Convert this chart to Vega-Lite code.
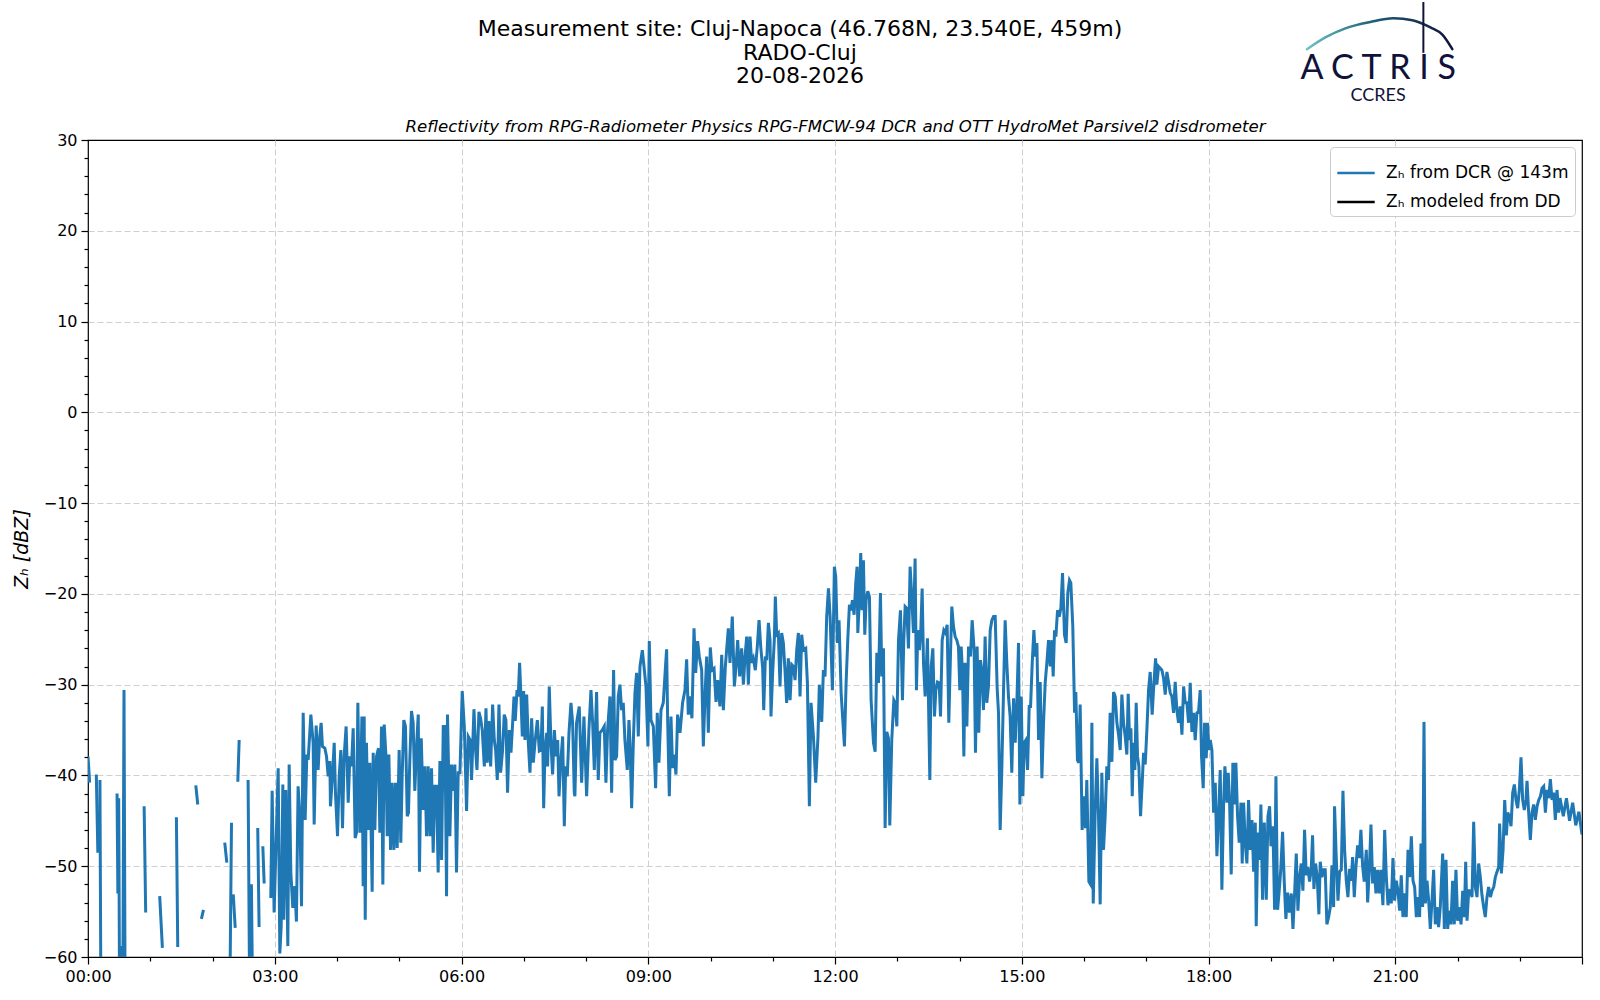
{
  "$schema": "https://vega.github.io/schema/vega-lite/v6.json",
  "width": 1494,
  "height": 817,
  "autosize": "none",
  "padding": {"left": 88, "top": 140, "right": 18, "bottom": 43},
  "background": "white",
  "title": {
    "text": ["Measurement site: Cluj-Napoca (46.768N, 23.540E, 459m)", "RADO-Cluj", "20-08-2026"],
    "font": "DejaVu Sans",
    "fontSize": 22,
    "fontWeight": "normal",
    "color": "black",
    "anchor": "middle",
    "lineHeight": 23.5,
    "dx": -35,
    "offset": -87
  },
  "config": {
    "view": {"stroke": "black", "strokeWidth": 1.2},
    "axis": {"labelFont": "DejaVu Sans", "titleFont": "DejaVu Sans", "labelColor": "black", "titleColor": "black"},
    "legend": {"labelFont": "DejaVu Sans"}
  },
  "resolve": {"axis": {"x": "independent", "y": "independent"}},
  "layer": [
    {
      "data": {"values": [
        {"t":0,"v":-37.9},{"t":1.6,"v":-40.8},{"t":3,"v":null},
        {"t":8,"v":-39.9},{"t":9.5,"v":-48.5},{"t":10.5,"v":null},
        {"t":11.5,"v":-40.5},{"t":12.5,"v":-66},{"t":13.5,"v":null},
        {"t":28,"v":-42},{"t":28.8,"v":-53},{"t":29.6,"v":-42.5},{"t":30.5,"v":-66},{"t":32.5,"v":-58.8},{"t":33.5,"v":-66},{"t":34.7,"v":-30.6},{"t":35.8,"v":-66},{"t":36.8,"v":null},
        {"t":54.1,"v":-43.4},{"t":55.6,"v":-55.1},{"t":56.6,"v":null},
        {"t":69.1,"v":-53.3},{"t":71.7,"v":-59},{"t":72.7,"v":null},
        {"t":85.2,"v":-44.6},{"t":86.5,"v":-58.9},{"t":87.5,"v":null},
        {"t":103.9,"v":-41.1},{"t":105.8,"v":-43.2},{"t":106.8,"v":null},
        {"t":109.3,"v":-55.8},{"t":111.3,"v":-54.8},{"t":112.3,"v":null},
        {"t":131.8,"v":-47.4},{"t":133.8,"v":-49.6},{"t":134.8,"v":null},
        {"t":136.6,"v":-66},{"t":138.3,"v":-45.2},{"t":139.2,"v":null},
        {"t":140,"v":-53.1},{"t":141.9,"v":-56.8},{"t":142.9,"v":null},
        {"t":144.4,"v":-40.7},{"t":145.7,"v":-36.1},{"t":146.7,"v":null},
        {"t":154.3,"v":-40.5},{"t":155.9,"v":-66},{"t":157.5,"v":-52},{"t":158.8,"v":-66},{"t":159.8,"v":null},
        {"t":163.6,"v":-45.8},{"t":164.9,"v":-56.7},{"t":165.9,"v":null},
        {"t":168.5,"v":-47.8},{"t":169.8,"v":-51.9},{"t":170.8,"v":null},
        {"t":176.2,"v":-53.5},{"t":177.5,"v":-41.7},{"t":179.4,"v":-55.1},{"t":183.3,"v":-39.2},{"t":184.9,"v":-59.6},{"t":186.2,"v":-56.6},{"t":187.8,"v":-41},{"t":188.7,"v":-55.9},{"t":190.6,"v":-41.6},{"t":192.6,"v":-58.8},{"t":193.9,"v":-38.8},{"t":195.5,"v":-50.7},{"t":197.4,"v":-54.6},{"t":199.3,"v":-52.2},{"t":200.9,"v":-56.1},{"t":202.5,"v":-41.2},{"t":204.2,"v":-44.5},{"t":205.8,"v":-54.4},{"t":207.4,"v":-33.1},{"t":209.3,"v":-44.9},{"t":210.9,"v":-37.7},{"t":212.2,"v":-38.3},{"t":214.8,"v":-33.3},{"t":217,"v":-36.4},{"t":218,"v":-45.4},{"t":219.9,"v":-34.5},{"t":221.8,"v":-39.4},{"t":223.4,"v":-35.7},{"t":224.7,"v":-34.2},{"t":226,"v":-36.8},{"t":228.3,"v":-37},{"t":229.9,"v":-37.9},{"t":231.5,"v":-40.1},{"t":233.1,"v":-38.4},
        {"t":233.7,"v":-43.4},{"t":235.6,"v":-40.1},{"t":237.3,"v":-36.4},{"t":238.5,"v":-41.9},{"t":240.5,"v":-46.7},{"t":242.1,"v":-40.1},{"t":243.7,"v":-37.2},{"t":245.3,"v":-45.8},{"t":246.9,"v":-37.9},{"t":248.8,"v":-34.6},{"t":250.8,"v":-43},{"t":252.4,"v":-37.9},{"t":254,"v":-39},{"t":255.6,"v":-34.8},{"t":257.5,"v":-46.9},{"t":258.8,"v":-46.3},{"t":260.1,"v":-32},{"t":262,"v":-46.3},{"t":264,"v":-33.5},{"t":265.2,"v":-52.2},{"t":266.2,"v":-33.5},{"t":267.2,"v":-55.9},{"t":268.4,"v":-36.4},{"t":270,"v":-46},{"t":271.7,"v":-38.6},{"t":273.9,"v":-52.8},{"t":274.9,"v":-37.5},{"t":276.5,"v":-46},{"t":278.1,"v":-37.9},{"t":280,"v":-37},{"t":281.3,"v":-46.3},{"t":282.9,"v":-34.6},{"t":284.2,"v":-52},{"t":285.5,"v":-34.4},{"t":287.1,"v":-37.7},{"t":288.4,"v":-46.7},{"t":290,"v":-37.7},{"t":291.6,"v":-48.2},{"t":293.2,"v":-40.8},{"t":294.8,"v":-48.2},{"t":296.4,"v":-40.8},{"t":298,"v":-48},{"t":299.9,"v":-37.2},{"t":301.5,"v":-47.4},{"t":302.8,"v":-40.1},{"t":304.4,"v":-33.9},{"t":306,"v":-34.6},{"t":307.7,"v":-44.5},{"t":308.9,"v":-44.1},{"t":310.2,"v":-38.3},{"t":311.8,"v":-32.9},{"t":313.4,"v":-34.2},{"t":315,"v":-41.7},{"t":316.7,"v":-36.8},{"t":318.3,"v":-33.3},{"t":319.5,"v":-50.6},{"t":321.2,"v":-35.9},{"t":323.1,"v":-43.8},{"t":324.7,"v":-39},{"t":326.3,"v":-46.7},{"t":327.9,"v":-39},{"t":329.5,"v":-46.7},{"t":331.1,"v":-39.2},{"t":332.7,"v":-48.5},{"t":334.3,"v":-41.2},{"t":335.9,"v":-41.2},{"t":337.5,"v":-50.7},{"t":339.2,"v":-38.4},{"t":340.8,"v":-49.3},{"t":342.4,"v":-34.6},{"t":344,"v":-34.6},{"t":345.6,"v":-53.3},{"t":346.5,"v":-33.3},{"t":348.8,"v":-46.7},{"t":350.4,"v":-38.8},{"t":352,"v":-41.7},{"t":353.6,"v":-38.8},{"t":355.2,"v":-50.7},{"t":356.8,"v":-39.7},
        {"t":358.5,"v":-39.7},{"t":360.7,"v":-30.7},{"t":362.7,"v":-34.6},{"t":364.9,"v":-43.9},{"t":366.5,"v":-35.7},{"t":368.4,"v":-36.1},{"t":369.7,"v":-40.5},{"t":372,"v":-32.7},{"t":373.6,"v":-37.2},{"t":374.9,"v":-39.4},{"t":376.8,"v":-33},{"t":378.4,"v":-33.7},{"t":380,"v":-35},{"t":382,"v":-39},{"t":383.6,"v":-32.6},{"t":384.8,"v":-38.6},{"t":386.4,"v":-34},{"t":388.1,"v":-39},{"t":390,"v":-32.2},{"t":391.6,"v":-36.1},{"t":392.9,"v":-37.2},{"t":394.5,"v":-40.5},{"t":396.1,"v":-32.2},{"t":397.7,"v":-39.7},{"t":399.6,"v":-37.2},{"t":401.2,"v":-33.3},{"t":402.8,"v":-33.9},{"t":404.4,"v":-41.9},{"t":406.1,"v":-35},{"t":407.7,"v":-37.5},{"t":409.3,"v":-34.2},{"t":410.6,"v":-31.3},{"t":411.8,"v":-34},{"t":413.5,"v":-30.6},{"t":414.7,"v":-31.3},{"t":416,"v":-27.6},{"t":417.3,"v":-31.3},{"t":418.6,"v":-35.7},{"t":419.9,"v":-30.7},{"t":421.2,"v":-36.1},{"t":422.8,"v":-31.1},{"t":424.4,"v":-36.4},{"t":426,"v":-39.7},{"t":427.6,"v":-33.7},{"t":429.2,"v":-38.6},{"t":430.8,"v":-36.4},{"t":433.1,"v":-33.9},{"t":435,"v":-37.3},{"t":436.6,"v":-37.2},{"t":437.9,"v":-32.4},{"t":439.2,"v":-43.6},{"t":440.5,"v":-37.2},{"t":442.1,"v":-35.3},{"t":443,"v":-39},{"t":444.6,"v":-30.2},{"t":446.2,"v":-36.4},{"t":447.8,"v":-39.9},{"t":449.5,"v":-35},{"t":451.1,"v":-37.9},{"t":452.7,"v":-36.1},{"t":454,"v":-42.3},{"t":455.6,"v":-38.6},{"t":457.5,"v":-35.7},{"t":459.1,"v":-45.6},{"t":460.4,"v":-39},{"t":462,"v":-40.1},{"t":463.6,"v":-35.3},{"t":465.5,"v":-32},{"t":467.1,"v":-34.2},{"t":468.7,"v":-41.9},
        {"t":469.3,"v":-42.3},{"t":470.9,"v":-34.2},{"t":473.5,"v":-32.4},{"t":475.8,"v":-40.8},{"t":478,"v":-33.5},{"t":480.6,"v":-42.3},{"t":482.8,"v":-35},{"t":484.8,"v":-30.6},{"t":486.4,"v":-34.2},{"t":488,"v":-39.4},{"t":490.2,"v":-30.8},{"t":491.8,"v":-40.5},{"t":493.4,"v":-35.3},{"t":495.7,"v":-35},{"t":497.6,"v":-34.6},{"t":499.2,"v":-40.8},{"t":500.8,"v":-35},{"t":503.1,"v":-31.3},{"t":504.7,"v":-41.9},{"t":506.6,"v":-28.4},{"t":507.9,"v":-38.3},{"t":509.5,"v":-37.9},{"t":511.1,"v":-31.3},{"t":512.7,"v":-30},{"t":514.3,"v":-32.8},{"t":515.9,"v":-32},{"t":517.5,"v":-36.1},{"t":519.8,"v":-39.4},{"t":521.4,"v":-33.9},{"t":522.4,"v":-36.4},{"t":524,"v":-43.6},{"t":525.6,"v":-36.4},{"t":527.2,"v":-30.9},{"t":528.8,"v":-28.7},{"t":530.4,"v":-35.7},{"t":532,"v":-28},{"t":534.3,"v":-26.2},{"t":535.9,"v":-28},{"t":537.8,"v":-30.2},{"t":539.7,"v":-36.8},{"t":541,"v":-25.2},{"t":542.6,"v":-33.9},{"t":544.9,"v":-34.6},{"t":547.1,"v":-41.4},{"t":548.7,"v":-33.1},{"t":550.3,"v":-38.6},{"t":552.3,"v":-32.8},{"t":554.5,"v":-32},{"t":556.4,"v":-28.4},{"t":557.7,"v":-26.1},{"t":558.7,"v":-33.9},{"t":560.3,"v":-42.3},{"t":561.9,"v":-33.5},{"t":563.5,"v":-39.2},{"t":565.1,"v":-37.7},{"t":566.7,"v":-39.9},{"t":568.3,"v":-33.3},{"t":570.6,"v":-35.3},{"t":573.1,"v":-32},{"t":575.4,"v":-30.6},{"t":577,"v":-27.2},{"t":578.6,"v":-33.3},{"t":580.2,"v":-31.3},{"t":582.1,"v":-33.7},{"t":584.1,"v":-23.8},{"t":585.7,"v":-28.7},{"t":587.6,"v":-25.2},{"t":589.2,"v":-26.9},{"t":591.5,"v":-28.4},{"t":593.1,"v":-36.8},{"t":594.7,"v":-31.3},{"t":596.3,"v":-26.9},{"t":597.9,"v":-35.3},{"t":599.8,"v":-25.9},{"t":601.4,"v":-28.4},{"t":603.4,"v":-28.2},{"t":605.3,"v":-31.9},{"t":606.9,"v":-29.5},{"t":609.1,"v":-32.4},{"t":610.8,"v":-26.7},{"t":612.4,"v":-32.8},{"t":614.3,"v":-28},{"t":617.2,"v":-23.8},{"t":618.8,"v":-27.6},{"t":621,"v":-22.5},{"t":623,"v":-30.2},{"t":624.6,"v":-28},{"t":626.2,"v":-25.1},{"t":628.1,"v":-29.1},{"t":630,"v":-26},{"t":631.7,"v":-30},{"t":633.3,"v":-26.9},{"t":634.9,"v":-24.7},{"t":636.5,"v":-30},{"t":638.1,"v":-24.7},{"t":639.7,"v":-27.6},{"t":641.3,"v":-27.1},{"t":643.2,"v":-28.4},{"t":645.1,"v":-25.8},{"t":646.8,"v":-22.9},{"t":648.4,"v":-25.8},{"t":650.3,"v":-28.2},{"t":651.3,"v":-32.8},{"t":652.9,"v":-26.9},{"t":654.2,"v":-27.3},{"t":655.8,"v":-23.2},{"t":657.4,"v":-25.1},{"t":658.3,"v":-33.5},{"t":659.9,"v":-28.7},{"t":661.5,"v":-25.1},{"t":662.5,"v":-20.3},{"t":663.8,"v":-24.5},{"t":665.4,"v":-24.3},{"t":667,"v":-30.2},{"t":668.6,"v":-24.3},{"t":670.2,"v":-25.4},{"t":671.8,"v":-28.4},{"t":673.4,"v":-32},{"t":675,"v":-27.1},{"t":676.7,"v":-31.7},{"t":678.3,"v":-27.8},{"t":679.9,"v":-28},{"t":681.5,"v":-29.5},{"t":683.1,"v":-26.2},{"t":684.7,"v":-24.3},{"t":686.3,"v":-31.3},{"t":687.9,"v":-24.5},{"t":689.5,"v":-26.2},{"t":691.8,"v":-26},{"t":693.4,"v":-29.8},{"t":695.3,"v":-43.4},{"t":696.9,"v":-32},{"t":699.2,"v":-35.7},{"t":701.4,"v":-40.8},{"t":703.6,"v":-35.7},{"t":704.9,"v":-30},
        {"t":707.2,"v":-34.1},{"t":708.8,"v":-28.4},{"t":710.4,"v":-29.1},{"t":712,"v":-22.5},{"t":713.7,"v":-19.4},{"t":715.3,"v":-22.5},{"t":717.5,"v":-30.6},{"t":719.4,"v":-17},{"t":720.7,"v":-18.1},{"t":722.3,"v":-25.4},{"t":723.9,"v":-22.9},{"t":725.9,"v":-30.9},{"t":729.1,"v":-36.8},{"t":730.7,"v":-29.8},{"t":732.3,"v":-25.1},{"t":733.9,"v":-21.2},{"t":735.5,"v":-21.8},{"t":736.8,"v":-20.7},{"t":738.4,"v":-22.3},{"t":740,"v":-18.8},{"t":741.3,"v":-17},{"t":742,"v":-24.3},{"t":743.6,"v":-20.3},{"t":744.8,"v":-15.5},{"t":746.1,"v":-21.8},{"t":747.4,"v":-16.3},{"t":748.7,"v":-24.5},{"t":750,"v":-20.7},{"t":751.6,"v":-19.7},{"t":753.2,"v":-20.3},{"t":754.8,"v":-31.7},{"t":757.1,"v":-36.4},{"t":758.7,"v":-37.4},{"t":760.3,"v":-26.5},{"t":761.9,"v":-29.8},{"t":763.8,"v":-19.9},{"t":765.1,"v":-29.1},{"t":766.7,"v":-26},{"t":768.3,"v":-45.8},{"t":769.9,"v":-35.2},{"t":771.5,"v":-35.9},{"t":772.8,"v":-45.5},{"t":774.7,"v":-36.1},{"t":776.7,"v":-31.7},{"t":778,"v":-32},{"t":779.6,"v":-34.6},{"t":781.2,"v":-25.1},{"t":783.1,"v":-21.8},{"t":785,"v":-31.7},{"t":786.3,"v":-25.1},{"t":787.6,"v":-21.4},{"t":789.2,"v":-21.6},{"t":790.8,"v":-26},{"t":792.4,"v":-17},{"t":794,"v":-20.3},{"t":795.6,"v":-24.3},{"t":797.2,"v":-16.1},{"t":798.5,"v":-30.6},{"t":799.8,"v":-24},{"t":801.4,"v":-26.2},{"t":802.7,"v":-24},{"t":804,"v":-19.4},{"t":805.3,"v":-27.6},{"t":806.9,"v":-31.3},{"t":809.1,"v":-24.9},{"t":811.4,"v":-40.5},{"t":812.7,"v":-28},{"t":814.3,"v":-26},{"t":815.9,"v":-33.5},{"t":817.2,"v":-30.6},{"t":818.8,"v":-29.7},{"t":820.4,"v":-29.8},{"t":821.7,"v":-33.5},{"t":823.3,"v":-25.1},{"t":824.9,"v":-24},{"t":826.5,"v":-24.3},{"t":828.1,"v":-23.4},{"t":829.7,"v":-34.2},{"t":831.3,"v":-26.7},{"t":832.6,"v":-21.4},{"t":834.2,"v":-23.6},{"t":835.8,"v":-24.7},{"t":837.4,"v":-25.1},{"t":839,"v":-25.8},{"t":840.3,"v":-30.6},{"t":841.6,"v":-25.8},{"t":842.9,"v":-28.6},{"t":844.2,"v":-37.9},{"t":845.4,"v":-27.6},{"t":847.1,"v":-34.6},{"t":848.7,"v":-25.8},{"t":850.6,"v":-26.9},{"t":852.2,"v":-22.9},{"t":854.1,"v":-26.2},{"t":855.4,"v":-37.5},{"t":857,"v":-25.8},{"t":858.6,"v":-35.3},{"t":860.2,"v":-27.3},{"t":861.5,"v":-28.4},{"t":863.1,"v":-32.8},{"t":864.7,"v":-24.7},{"t":866.3,"v":-32},{"t":867.9,"v":-30.2},{"t":869.6,"v":-24},{"t":871.2,"v":-22.9},{"t":872.8,"v":-22.5},{"t":874.4,"v":-22.5},{"t":876.3,"v":-30.4},{"t":877.6,"v":-33.1},{"t":879.2,"v":-46},{"t":880.8,"v":-39.2},{"t":882.4,"v":-30.9},{"t":884,"v":-22.9},{"t":885.6,"v":-27.6},{"t":887.2,"v":-31.3},{"t":888.8,"v":-33.5},{"t":890.4,"v":-39.7},{"t":892.1,"v":-31.5},{"t":893.7,"v":-36.4},{"t":895.3,"v":-31.9},{"t":896.9,"v":-25.4},{"t":898.2,"v":-43.2},{"t":899.5,"v":-31.3},{"t":901.1,"v":-42.3},{"t":902.3,"v":-36.4},{"t":904,"v":-36.1},{"t":905.6,"v":-39.4},{"t":907.2,"v":-32.4},{"t":908.5,"v":-32.4},{"t":910.1,"v":-27.6},{"t":911.7,"v":-24},{"t":913,"v":-26.9},{"t":914.6,"v":-25.4},{"t":916.2,"v":-36.1},{"t":917.8,"v":-29.7},{"t":919.4,"v":-40.3},{"t":921,"v":-34.2},{"t":922.6,"v":-29.8},{"t":924.2,"v":-27.6},{"t":925.8,"v":-25.1},{"t":927.4,"v":-28},{"t":929,"v":-25.1},{"t":930.3,"v":-29.1},{"t":931.6,"v":-24},{"t":932.9,"v":-24.7},{"t":934.5,"v":-21.8},{"t":936.1,"v":-22.5},{"t":937.7,"v":-21.6},{"t":939.3,"v":-17.7},{"t":941.2,"v":-24.5},
        {"t":942.8,"v":-25.4},{"t":944.4,"v":-19.9},{"t":946,"v":-18.5},{"t":947.3,"v":-18.8},{"t":949.2,"v":-23.6},{"t":950.9,"v":-33.1},{"t":952.1,"v":-30.8},{"t":953.7,"v":-38.3},{"t":955,"v":-38.6},{"t":956.3,"v":-32.2},{"t":958.2,"v":-46},{"t":960.2,"v":-42.3},{"t":961.5,"v":-45.8},{"t":962.7,"v":-40.5},{"t":964.7,"v":-51.7},{"t":966.3,"v":-52},{"t":967.6,"v":-34.2},{"t":968.9,"v":-54.1},{"t":970.8,"v":-43.8},{"t":972.4,"v":-38.1},{"t":974,"v":-44.5},{"t":975.6,"v":-54.2},{"t":977.2,"v":-39.7},{"t":978.8,"v":-48.2},{"t":980.4,"v":-44.5},{"t":982,"v":-39},{"t":983.6,"v":-40.5},{"t":985.2,"v":-33.1},{"t":986.9,"v":-38.5},{"t":988.5,"v":-30.8},{"t":990.1,"v":-31.3},{"t":991.7,"v":-34.2},{"t":993.3,"v":-35.5},{"t":994.9,"v":-37.2},{"t":996.5,"v":-31.1},{"t":998.1,"v":-34.2},{"t":999.7,"v":-35.7},{"t":1001.3,"v":-37.7},{"t":1002.6,"v":-31},{"t":1003.9,"v":-36.1},{"t":1005.2,"v":-34.8},{"t":1006.5,"v":-42.3},{"t":1007.7,"v":-36.4},{"t":1009,"v":-39.4},{"t":1010.3,"v":-32},{"t":1011.6,"v":-37.9},{"t":1012.9,"v":-39},{"t":1014.5,"v":-44.5},{"t":1016.1,"v":-40.8},{"t":1017.4,"v":-37.5},{"t":1019,"v":-38.8},{"t":1020.6,"v":-35},{"t":1022.2,"v":-30.6},{"t":1023.8,"v":-28.6},{"t":1025.7,"v":-33.3},{"t":1027.4,"v":-29.8},{"t":1029,"v":-27.1},{"t":1030.2,"v":-30},{"t":1031.9,"v":-28},{"t":1033.5,"v":-28.2},{"t":1035.1,"v":-28.4},{"t":1036.7,"v":-29.3},{"t":1038.3,"v":-31.1},{"t":1039.9,"v":-28.6},{"t":1041.5,"v":-29.7},{"t":1043.1,"v":-30.9},{"t":1044.7,"v":-31.3},{"t":1046.3,"v":-33.1},{"t":1047.9,"v":-29.7},{"t":1049.5,"v":-32.8},{"t":1051.1,"v":-34.2},{"t":1052.7,"v":-32.4},{"t":1054.4,"v":-35.5},{"t":1056,"v":-30.2},{"t":1057.6,"v":-32},{"t":1059.2,"v":-32},{"t":1060.8,"v":-34.2},{"t":1062.4,"v":-29.8},{"t":1064,"v":-35.2},{"t":1065.6,"v":-33.1},{"t":1067.2,"v":-36.1},{"t":1068.8,"v":-33.1},{"t":1070.4,"v":-33},{"t":1072,"v":-30.6},{"t":1073.3,"v":-37.9},{"t":1074.9,"v":-41.4},{"t":1076.2,"v":-34.2},{"t":1077.8,"v":-38.1},{"t":1079.1,"v":-34.2},{"t":1080.4,"v":-37.2},{"t":1081.7,"v":-36.1},{"t":1083.3,"v":-37.2},{"t":1084.9,"v":-44.1},{"t":1086.5,"v":-40.8},{"t":1088.1,"v":-48.9},{"t":1089.7,"v":-44.5},{"t":1091.3,"v":-39.4},{"t":1092.9,"v":-52.6},{"t":1094.5,"v":-43.4},{"t":1095.8,"v":-39},{"t":1097.8,"v":-43},{"t":1099,"v":-39.7},{"t":1100.3,"v":-42.7},{"t":1101.9,"v":-50.9},{"t":1103.5,"v":-38.6},{"t":1104.8,"v":-43.2},{"t":1106.4,"v":-38.6},{"t":1108,"v":-44.5},{"t":1109.6,"v":-47.4},{"t":1111.3,"v":-43},{"t":1112.5,"v":-49.7},{"t":1113.8,"v":-43},{"t":1115.4,"v":-47.4},{"t":1117,"v":-49.7},{"t":1118.6,"v":-42.7},{"t":1120.3,"v":-48.2},{"t":1121.9,"v":-44.9},{"t":1123.5,"v":-50.6},{"t":1125.1,"v":-45.2},{"t":1126,"v":-56.6},{"t":1127.6,"v":-46.3},{"t":1129.2,"v":-49.3},{"t":1130.5,"v":-43.2},{"t":1132.1,"v":-53.7},{"t":1133.8,"v":-45.2},{"t":1135.7,"v":-53.7},{"t":1137.3,"v":-44.5},{"t":1138.9,"v":-43.4},{"t":1140.2,"v":-47.8},{"t":1142.1,"v":-45.6},{"t":1143.7,"v":-54.8},{"t":1145,"v":-40.1},{"t":1146.6,"v":-54.8},{"t":1148.5,"v":-52.2},
        {"t":1149.8,"v":-50.1},{"t":1151.4,"v":-46.2},{"t":1153,"v":-51.7},{"t":1154.6,"v":-55.8},{"t":1156.2,"v":-52.9},{"t":1158.1,"v":-55.1},{"t":1159.8,"v":-53},{"t":1161.4,"v":-56.9},{"t":1163,"v":-53},{"t":1164.6,"v":-48.6},{"t":1166.2,"v":-54.9},{"t":1167.8,"v":-51.2},{"t":1169.4,"v":-49.7},{"t":1171,"v":-52.7},{"t":1172.6,"v":-46},{"t":1174.2,"v":-51},{"t":1175.8,"v":-50.1},{"t":1177.4,"v":-51.7},{"t":1179,"v":-50.4},{"t":1180.3,"v":-46.6},{"t":1181.6,"v":-52.5},{"t":1183.2,"v":-49.7},{"t":1184.8,"v":-51.2},{"t":1186.4,"v":-55.3},{"t":1187.7,"v":-49.5},{"t":1189.3,"v":-51.2},{"t":1190.9,"v":-50.4},{"t":1192.5,"v":-50.4},{"t":1194.1,"v":-56.4},{"t":1195.8,"v":-55.6},{"t":1197.4,"v":-54.5},{"t":1199,"v":-49.9},{"t":1200.6,"v":-54.5},{"t":1201.5,"v":-43.4},{"t":1203.1,"v":-49},{"t":1204.8,"v":-53.8},{"t":1206.4,"v":-50.6},{"t":1208,"v":-50.4},{"t":1209.6,"v":-41.7},{"t":1211.2,"v":-48.2},{"t":1212.8,"v":-51.6},{"t":1214.4,"v":-53.4},{"t":1216,"v":-50.3},{"t":1217.6,"v":-51.6},{"t":1218.9,"v":-49},{"t":1220.5,"v":-53.4},{"t":1222.1,"v":-50.1},{"t":1223.7,"v":-47.7},{"t":1225.3,"v":-49.1},{"t":1226.9,"v":-46},{"t":1228.5,"v":-49.9},{"t":1230.1,"v":-51.7},{"t":1232.1,"v":-48.2},{"t":1233.4,"v":-54},{"t":1235,"v":-50.4},{"t":1236.6,"v":-45.4},{"t":1238.2,"v":-51.9},{"t":1239.8,"v":-50.1},{"t":1241.4,"v":-53},{"t":1243,"v":-50.4},{"t":1244.6,"v":-53},{"t":1246.2,"v":-50.4},{"t":1248.1,"v":-54.3},{"t":1249.8,"v":-46},{"t":1251.4,"v":-51.2},{"t":1253,"v":-54.3},{"t":1254.6,"v":-52.5},{"t":1256.2,"v":-54.1},{"t":1257.8,"v":-49.1},{"t":1259.4,"v":-53.8},{"t":1261,"v":-51.6},{"t":1262.6,"v":-52.7},{"t":1264.2,"v":-54.9},{"t":1265.8,"v":-51},{"t":1267.4,"v":-55.6},{"t":1269,"v":-53},{"t":1270.6,"v":-55.6},{"t":1272.3,"v":-48.2},{"t":1273.9,"v":-51.2},{"t":1275.5,"v":-46.7},{"t":1277.1,"v":-51.6},{"t":1278.7,"v":-52.3},{"t":1280.3,"v":-55.6},{"t":1281.9,"v":-53.4},{"t":1283.5,"v":-55.6},{"t":1284.8,"v":-47.5},{"t":1286.4,"v":-54.5},{"t":1287.7,"v":-34.1},{"t":1289,"v":-54.1},{"t":1290.6,"v":-51.6},{"t":1292.2,"v":-53.8},{"t":1293.8,"v":-56.9},{"t":1295.4,"v":-53.8},{"t":1297,"v":-50.4},{"t":1298.6,"v":-56.4},{"t":1300.2,"v":-54.5},{"t":1301.8,"v":-56.7},{"t":1303.4,"v":-54.5},{"t":1305.7,"v":-48.6},{"t":1307.3,"v":-56.9},{"t":1308.9,"v":-49.3},{"t":1310.5,"v":-56.9},{"t":1312.1,"v":-54.9},{"t":1313.7,"v":-56.4},{"t":1315.3,"v":-51.6},{"t":1316.9,"v":-56.4},{"t":1318.5,"v":-50.4},{"t":1320.1,"v":-56},{"t":1321.8,"v":-54.5},{"t":1323.4,"v":-56.4},{"t":1325,"v":-52.7},{"t":1326.6,"v":-55.6},{"t":1327.9,"v":-49.5},{"t":1329.2,"v":-56},{"t":1330.8,"v":-52.7},{"t":1332.4,"v":-52.7},{"t":1334,"v":-53.4},{"t":1335.6,"v":-45.1},{"t":1337.2,"v":-52.3},{"t":1338.8,"v":-53.4},{"t":1340.4,"v":-49.7},{"t":1342,"v":-51.2},{"t":1343.6,"v":-53.2},{"t":1345.2,"v":-54.5},{"t":1346.8,"v":-55.6},{"t":1348.4,"v":-53.4},{"t":1350,"v":-52.3},{"t":1351.7,"v":-53.4},{"t":1353.3,"v":-52.7},{"t":1354.9,"v":-52.3},{"t":1356.5,"v":-51.2},{"t":1358.1,"v":-50.6},{"t":1359.7,"v":-50.1},{"t":1360.6,"v":-45.3},{"t":1362.3,"v":-50.8},{"t":1363.9,"v":-48.2},{"t":1365.5,"v":-42.7},{"t":1367.1,"v":-46.6},{"t":1368.4,"v":-44.1},{"t":1370,"v":-44.5},{"t":1371.6,"v":-45.6},{"t":1373.2,"v":-41.9},{"t":1374.8,"v":-41},{"t":1376.4,"v":-42.7},{"t":1378,"v":-43.6},{"t":1379.6,"v":-41.6},{"t":1381.2,"v":-38},{"t":1382.8,"v":-42.7},{"t":1384.4,"v":-43.8},{"t":1386,"v":-42.7},{"t":1387,"v":-40.6},{"t":1388.6,"v":-44.1},{"t":1390.2,"v":-47.1},{"t":1391.8,"v":-44.1},{"t":1393.4,"v":-43.2},{"t":1395,"v":-44.9},{"t":1396.7,"v":-43.4},{"t":1398.3,"v":-42.7},{"t":1399.9,"v":-42.3},{"t":1401.5,"v":-41.4},{"t":1403.1,"v":-41.2},{"t":1404.7,"v":-44.1},{"t":1406.3,"v":-41.6},{"t":1407.9,"v":-42.5},{"t":1409.5,"v":-40.4},{"t":1411.1,"v":-42.7},{"t":1412.7,"v":-41.9},{"t":1414.3,"v":-44.9},{"t":1415.9,"v":-41.6},{"t":1417.5,"v":-44.1},{"t":1418.8,"v":-42.5},
        {"t":1422,"v":-44.5},{"t":1425,"v":-42.5},{"t":1428,"v":-45},{"t":1431,"v":-43},{"t":1434,"v":-45.5},{"t":1437,"v":-44},{"t":1440,"v":-46.5}
      ]},
      "mark": {"type": "line", "strokeWidth": 3, "clip": true, "invalid": "break-paths-filter-domains"},
      "encoding": {
        "x": {
          "field": "t", "type": "quantitative",
          "scale": {"domain": [0, 1440], "nice": false, "zero": false},
          "axis": {
            "orient": "bottom", "title": null,
            "values": [0, 60, 120, 180, 240, 300, 360, 420, 480, 540, 600, 660, 720, 780, 840, 900, 960, 1020, 1080, 1140, 1200, 1260, 1320, 1380, 1440],
            "labelExpr": "datum.value % 180 === 0 && datum.value < 1440 ? (datum.value < 600 ? '0' : '') + (datum.value / 60) + ':00' : ''",
            "labelFontSize": 16, "labelPadding": 4, "labelFlush": false,
            "domain": false,
            "tickColor": "black", "tickWidth": 1.2,
            "tickSize": {"condition": {"test": "datum.value % 180 === 0", "value": 7}, "value": 4},
            "grid": true, "gridColor": "#cfcfcf", "gridDash": [6, 3], "gridWidth": 1,
            "gridOpacity": {"condition": {"test": "datum.value % 180 === 0 && datum.value > 0 && datum.value < 1440", "value": 1}, "value": 0}
          }
        },
        "y": {
          "field": "v", "type": "quantitative",
          "scale": {"domain": [-60, 30], "nice": false, "zero": false},
          "axis": {
            "orient": "left",
            "title": "Zₕ [dBZ]", "titleFontSize": 19, "titleFontWeight": "normal", "titleFontStyle": "italic", "titlePadding": 12,
            "values": [-60, -58, -56, -54, -52, -50, -48, -46, -44, -42, -40, -38, -36, -34, -32, -30, -28, -26, -24, -22, -20, -18, -16, -14, -12, -10, -8, -6, -4, -2, 0, 2, 4, 6, 8, 10, 12, 14, 16, 18, 20, 22, 24, 26, 28, 30],
            "labelExpr": "datum.value % 10 === 0 ? replace(format(datum.value, 'd'), '-', '\u2212') : ''",
            "labelFontSize": 16, "labelPadding": 4,
            "domain": false,
            "tickColor": "black", "tickWidth": 1.2,
            "tickSize": {"condition": {"test": "datum.value % 10 === 0", "value": 7}, "value": 4},
            "grid": true, "gridColor": "#cfcfcf", "gridDash": [6, 3], "gridWidth": 1,
            "gridOpacity": {"condition": {"test": "datum.value % 10 === 0 && datum.value > -60 && datum.value < 30", "value": 1}, "value": 0}
          }
        },
        "color": {
          "datum": "Zₕ from DCR @ 143m", "type": "nominal",
          "scale": {"domain": ["Zₕ from DCR @ 143m", "Zₕ modeled from DD"], "range": ["#1f77b4", "#000000"]},
          "legend": {
            "title": null, "orient": "top-right", "offset": 7,
            "symbolType": "stroke", "symbolSize": 1400, "symbolStrokeWidth": 2.5,
            "labelFontSize": 17, "labelColor": "black", "labelOffset": 10, "labelLimit": 400,
            "rowPadding": 1, "padding": 6,
            "fillColor": "white", "strokeColor": "#cccccc", "cornerRadius": 4
          }
        }
      }
    },
    {
      "data": {"values": [{"t": 1243.5, "v": 36.7, "label": "A C T R I S"}]},
      "mark": {"type": "text", "font": "Lato", "fontSize": 34, "color": "#10123a", "align": "center", "baseline": "alphabetic"},
      "encoding": {
        "x": {"field": "t", "type": "quantitative", "axis": null},
        "y": {"field": "v", "type": "quantitative", "axis": null},
        "text": {"field": "label"}
      }
    },
    {
      "data": {"values": [{"t": 1243.5, "v": 34.3, "label": "CCRES"}]},
      "mark": {"type": "text", "font": "Lato", "fontSize": 18, "color": "#10123a", "align": "center", "baseline": "alphabetic"},
      "encoding": {
        "x": {
          "field": "t", "type": "quantitative",
          "axis": {
            "orient": "top", "title": "Reflectivity from RPG-Radiometer Physics RPG-FMCW-94 DCR and OTT HydroMet Parsivel2 disdrometer",
            "titleFontSize": 16.6, "titleFontStyle": "italic", "titleFontWeight": "normal", "titlePadding": 6,
            "labels": false, "ticks": false, "domain": false, "grid": false
          }
        },
        "y": {"field": "v", "type": "quantitative", "axis": null},
        "text": {"field": "label"}
      }
    },
    {
      "data": {"values": [
        {"t": 1174.9, "v": 40.0}, {"t": 1192.6, "v": 41.3}, {"t": 1211.9, "v": 42.3}, {"t": 1236.0, "v": 43.0},
        {"t": 1258.2, "v": 43.4}, {"t": 1276.5, "v": 43.2}, {"t": 1293.9, "v": 42.4}, {"t": 1305.4, "v": 41.6}, {"t": 1315.0, "v": 40.0}
      ]},
      "mark": {
        "type": "line", "strokeWidth": 2.5, "interpolate": "monotone", "strokeCap": "round",
        "stroke": {"gradient": "linear", "x1": 0, "x2": 1, "y1": 0, "y2": 0, "stops": [{"offset": 0, "color": "#6cc4c2"}, {"offset": 0.45, "color": "#1d5f78"}, {"offset": 1, "color": "#10123a"}]}
      },
      "encoding": {
        "x": {"field": "t", "type": "quantitative", "axis": null},
        "y": {"field": "v", "type": "quantitative", "axis": null}
      }
    },
    {
      "data": {"values": [{"t": 1287.1, "v": 45.2, "v2": 39.6}]},
      "mark": {"type": "rule", "strokeWidth": 2, "color": "#10123a"},
      "encoding": {
        "x": {"field": "t", "type": "quantitative", "axis": null},
        "y": {"field": "v", "type": "quantitative", "axis": null},
        "y2": {"field": "v2"}
      }
    }
  ]
}
